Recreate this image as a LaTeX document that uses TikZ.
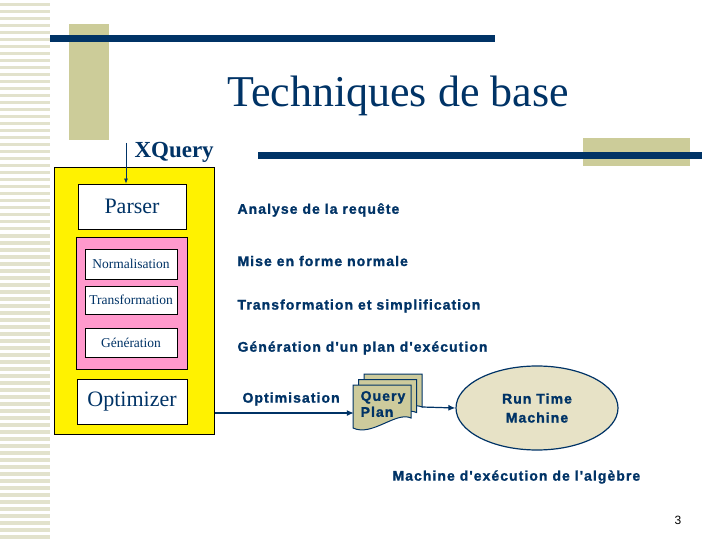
\documentclass[tikz,border=0pt]{standalone}
\usepackage{fontspec}
\setmainfont{Liberation Serif}
\newfontfamily\labfont[LetterSpace=7.5,BoldFeatures={FakeBold=1.3}]{Liberation Sans}
\newfontfamily\numfont{Liberation Sans}
\usetikzlibrary{arrows.meta,shapes.geometric}
\definecolor{navy}{RGB}{0,51,102}
\definecolor{tan}{RGB}{204,204,153}
\definecolor{stripe}{RGB}{226,226,204}
\definecolor{pinkbox}{RGB}{255,153,204}
\definecolor{plan}{RGB}{205,203,156}
\definecolor{rtmfill}{RGB}{231,226,198}

\begin{document}
\begin{tikzpicture}[x=1pt,y=-1pt,
  box/.style={draw=black,fill=white,line width=0.8pt,inner sep=0pt,text=navy},
  lab/.style={anchor=west,text=navy,font=\labfont\bfseries\fontsize{14}{16}\selectfont},
  arr/.style={-{Latex[length=7pt,width=6pt]},line width=1.2pt,draw=navy}]
\useasboundingbox[fill=white] (0,0) rectangle (720,540);
% Drawing the slide decoration
\foreach \y in {3,10,...,538}
  \fill[stripe] (0,\y) rectangle (50,\y+3.5);
\fill[tan] (69,24) rectangle (109,140);
\fill[tan] (583,138) rectangle (690,166);
\fill[navy] (50,35) rectangle (495,42);
\fill[navy] (258,152) rectangle (702,159);
\node[anchor=base,text=navy,font=\fontsize{44}{48}\selectfont] (title) at (398,107) {Techniques de base};
% Done with decoration; drawing the boxes
\node[draw=black,fill=yellow,line width=1pt,minimum width=160pt,minimum height=267pt] (yellow) at (134.5,301) {};
\node[box,minimum width=108pt,minimum height=45pt,font=\fontsize{22}{24}\selectfont] (parser) at (132,206.5) {Parser};
\node[draw=black,fill=pinkbox,line width=0.8pt,minimum width=111pt,minimum height=132pt] (pink) at (131.5,303) {};
\node[box,minimum width=92pt,minimum height=30pt,font=\fontsize{13.5}{15}\selectfont] (norm) at (131,264) {Normalisation};
\node[box,minimum width=92pt,minimum height=28pt,font=\fontsize{13.5}{15}\selectfont] (trans) at (131,300) {Transformation};
\node[box,minimum width=92pt,minimum height=29pt,font=\fontsize{13.5}{15}\selectfont] (gen) at (131,342.5) {Génération};
\node[box,minimum width=110pt,minimum height=45pt,font=\fontsize{22}{24}\selectfont] (optim) at (132,401.5) {Optimizer};
% XQuery input
\node[anchor=west,text=navy,font=\bfseries\fontsize{23}{25}\selectfont] (xq) at (131,152) {XQuery};
\coordinate (xqtop) at (126,143);
\draw[-{Latex[length=5pt,width=4pt]},line width=0.8pt,draw=navy] (xqtop) -- (parser.north -| xqtop);
% Labels on the right
\node[lab] (l1) at (234,210) {Analyse de la requête};
\node[lab] (l2) at (234,261) {Mise en forme normale};
\node[lab] (l3) at (234,306) {Transformation et simplification};
\node[lab] (l4) at (234,348) {Génération d'un plan d'exécution};
\node[lab] (l5) at (239,399) {Optimisation};
% Query plan
\foreach \d in {11,5.5,0}
  \filldraw[fill=plan,draw=navy,line width=1pt] (353+\d,385-\d) -- (411+\d,385-\d) -- (411+\d,418-\d)
    .. controls (396+\d,411-\d) and (372+\d,437-\d) .. (353+\d,428-\d) -- cycle;
\node[align=left,text=navy,font=\labfont\bfseries\fontsize{14}{16}\selectfont,minimum width=58pt,minimum height=43pt,inner sep=0pt] (qplan) at (383,404) {Query\\Plan};
\node[ellipse,draw=navy,fill=rtmfill,line width=1.2pt,minimum width=162pt,minimum height=84pt,align=center,
  text=navy,font=\labfont\bfseries\fontsize{14}{19}\selectfont] (rtm) at (537,408) {Run Time\\Machine};
\node[lab] (l6) at (389,477) {Machine d'exécution de l'algèbre};
% Arrows
\coordinate (qin) at ([yshift=-9pt]qplan.west);
\draw[arr] (yellow.east |- qin) -- (qin);
\draw[arr] ([xshift=10pt,yshift=-3pt]qplan.east) -- (rtm.west);
\node[font=\numfont\fontsize{12}{14}\selectfont,text=black] (page) at (678,520) {3};
\end{tikzpicture}
\end{document}
